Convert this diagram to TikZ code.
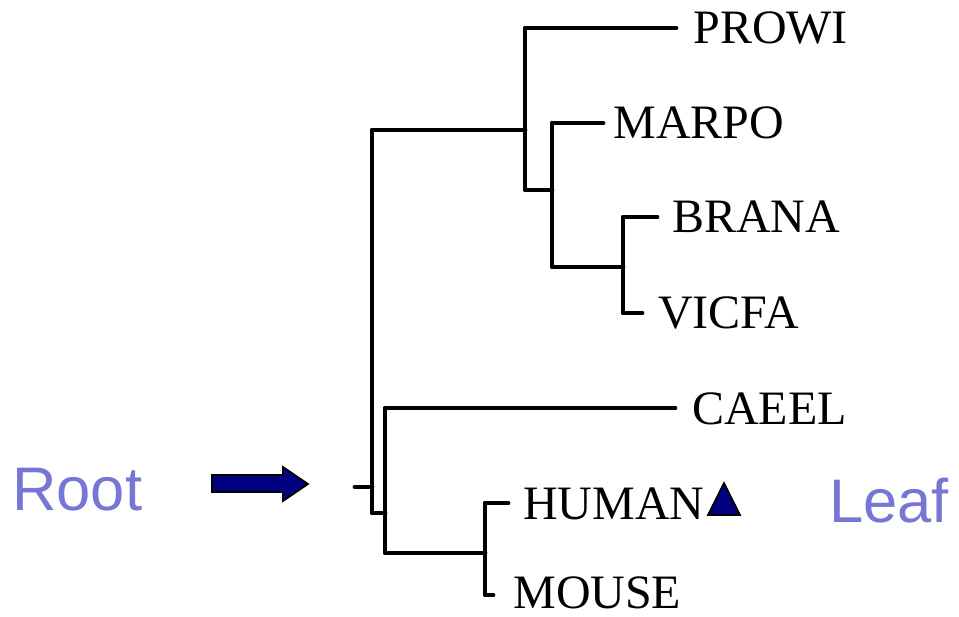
\documentclass[tikz,border=0pt]{standalone}
\usepackage{fontspec}
\setmainfont{Liberation Serif}
\newfontfamily\labelsans{Liberation Sans}
\definecolor{markblue}{RGB}{118,118,212}
\definecolor{navyfill}{RGB}{0,0,128}
\begin{document}
\begin{tikzpicture}[x=0.02cm,y=-0.02cm,
           edge_style/.style={draw=black,line width=2.8pt,line cap=round,line join=round},
           leaf_style/.style={anchor=west,inner sep=0pt,font=\fontsize{27.3}{30}\selectfont},
           mark_style/.style={anchor=west,inner sep=0pt,text=markblue,font=\labelsans\fontsize{35}{40}\selectfont},
           shape_style/.style={draw=black,fill=navyfill,line width=1pt,line join=miter}]
            \useasboundingbox (0,0) rectangle (959,616);
            % inner points of the tree
            \coordinate (r0) at (355,487);
            \coordinate (r)  at (372,487);
            \coordinate (a)  at (525,130);
            \coordinate (c)  at (552,190);
            \coordinate (d)  at (623,267);
            \coordinate (b)  at (385,513);
            \coordinate (e)  at (485,553);
            % ends of the leaf branches
            \coordinate (l0) at (676,28);
            \coordinate (l1) at (603,123);
            \coordinate (l2) at (657,217);
            \coordinate (l3) at (642,313);
            \coordinate (l4) at (675,408);
            \coordinate (l5) at (508,503);
            \coordinate (l6) at (493,595);
            \node[leaf_style] (t0) at (693,28)  {PROWI};
            \node[leaf_style] (t1) at (613,123) {MARPO};
            \node[leaf_style] (t2) at (672,217) {BRANA};
            \node[leaf_style] (t3) at (658,313) {VICFA};
            \node[leaf_style] (t4) at (692,409) {CAEEL};
            \node[leaf_style] (t5) at (523,504) {HUMAN};
            \node[leaf_style] (t6) at (513,593) {MOUSE};
            \node[mark_style] (root) at (12,490)  {Root};
            \node[mark_style] (leaf) at (829,501) {Leaf};
            \draw[edge_style]  (r0) -- (r);
            \draw[edge_style]  (a) -| (r) |- (b);
            \draw[edge_style]  (l0) -| (a) |- (c);
            \draw[edge_style]  (l1) -| (c) |- (d);
            \draw[edge_style]  (l2) -| (d) |- (l3);
            \draw[edge_style]  (l4) -| (b) |- (e);
            \draw[edge_style]  (l5) -| (e) |- (l6);
            % block arrow and triangle
            \draw[shape_style] (212,475) -- (283,475) -- (283,467) -- (308,484)
                -- (283,501) -- (283,492) -- (212,492) -- cycle;
            \draw[shape_style] (708,515) -- (740,515) -- (724,483) -- cycle;
        \end{tikzpicture}
\end{document}
